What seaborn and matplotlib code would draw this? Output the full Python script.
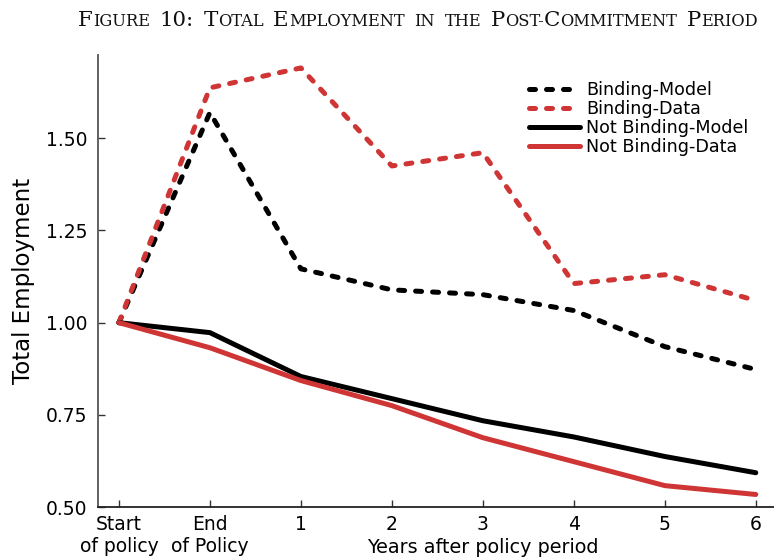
import numpy as np
import pandas as pd
import matplotlib
matplotlib.use("Agg")
import matplotlib.pyplot as plt
import seaborn as sns
from matplotlib.offsetbox import TextArea, HPacker, AnnotationBbox
from matplotlib.transforms import blended_transform_factory

# ---- data ----
periods = ["Start\nof policy", "End\nof Policy", "1", "2", "3", "4", "5", "6"]
binding_model = [1.00, 1.57, 1.146, 1.089, 1.076, 1.033, 0.935, 0.873]
binding_data = [1.00, 1.637, 1.691, 1.425, 1.461, 1.106, 1.130, 1.060]
not_binding_model = [1.00, 0.973, 0.854, 0.794, 0.734, 0.690, 0.637, 0.593]
not_binding_data = [1.00, 0.932, 0.843, 0.775, 0.688, 0.623, 0.558, 0.534]
series_names = ["Binding-Model", "Binding-Data", "Not Binding-Model", "Not Binding-Data"]
yticks = [0.50, 0.75, 1.00, 1.25, 1.50]

RED = "#d03535"
BLACK = "#000000"

pos = np.arange(len(periods))
df = pd.concat([
    pd.DataFrame({"x": pos, "value": vals, "series": name})
    for name, vals in zip(series_names,
                          [binding_model, binding_data, not_binding_model, not_binding_data])
], ignore_index=True)

plt.rcParams["font.family"] = ["DejaVu Sans"]

fig = plt.figure(figsize=(7.74, 5.59), dpi=100)
ax = fig.add_axes([0.1266, 0.093, 0.8734, 0.8086])

palette = {"Binding-Model": BLACK, "Binding-Data": RED,
           "Not Binding-Model": BLACK, "Not Binding-Data": RED}
dash = (1.2, 2.2)
dashes = {"Binding-Model": dash, "Binding-Data": dash,
          "Not Binding-Model": "", "Not Binding-Data": ""}

sns.lineplot(data=df, x="x", y="value", hue="series", style="series",
             hue_order=series_names, style_order=series_names,
             palette=palette, dashes=dashes, lw=3.6, ax=ax,
             dash_capstyle="round", solid_capstyle="round", legend=False)

ax.set_xlim(-0.23, 7.2)
ax.set_ylim(0.5, 1.726)
ax.set_xticks(pos)
ax.set_xticklabels(periods)
ax.set_yticks(yticks)
ax.set_yticklabels([f"{v:.2f}" for v in yticks])

for s in ["top", "right"]:
    ax.spines[s].set_visible(False)
ax.spines["left"].set_color("#555555")
ax.spines["left"].set_linewidth(1.3)
ax.spines["bottom"].set_color("#222222")
ax.spines["bottom"].set_linewidth(1.3)
ax.tick_params(axis="both", direction="in", length=5, width=1, labelsize=13.5,
               color="#333333")
ax.tick_params(axis="x", pad=5.5)
ax.tick_params(axis="y", pad=7.5)

ax.set_ylabel("Total Employment", fontsize=16.5)
ax.yaxis.set_label_coords(-0.093, 0.5)
ax.set_xlabel("Years after policy period", fontsize=13.8)
ax.xaxis.set_label_coords(4, -0.068,
                          transform=blended_transform_factory(ax.transData, ax.transAxes))

handles = ax.lines[:4]
leg = ax.legend(handles=handles, labels=series_names, loc="upper right",
                bbox_to_anchor=(0.972, 0.958), frameon=False, fontsize=12.6,
                labelspacing=0.06, handlelength=2.9, handletextpad=0.33,
                borderaxespad=0)

# ---- small-caps title ----
title_words = [[("F", True), ("IGURE", False)],
               [("10:", True)],
               [("T", True), ("OTAL", False)],
               [("E", True), ("MPLOYMENT", False)],
               [("IN", False)],
               [("THE", False)],
               [("P", True), ("OST-", False), ("C", True), ("OMMITMENT", False)],
               [("P", True), ("ERIOD", False)]]
big = dict(family="DejaVu Serif", size=15.4, color="#111111")
small = dict(family="DejaVu Serif", size=11.7, color="#111111")
word_boxes = []
for w in title_words:
    parts = [TextArea(t, textprops=(big if b else small)) for t, b in w]
    word_boxes.append(HPacker(children=parts, align="baseline", pad=0, sep=0))
title_box = HPacker(children=word_boxes, align="baseline", pad=0, sep=7)
ab = AnnotationBbox(title_box, (418 / 774, 1 - 21 / 559), xycoords="figure fraction",
                    box_alignment=(0.5, 0.5), frameon=False, pad=0)
fig.add_artist(ab)

fig.savefig("out.png", dpi=100)
